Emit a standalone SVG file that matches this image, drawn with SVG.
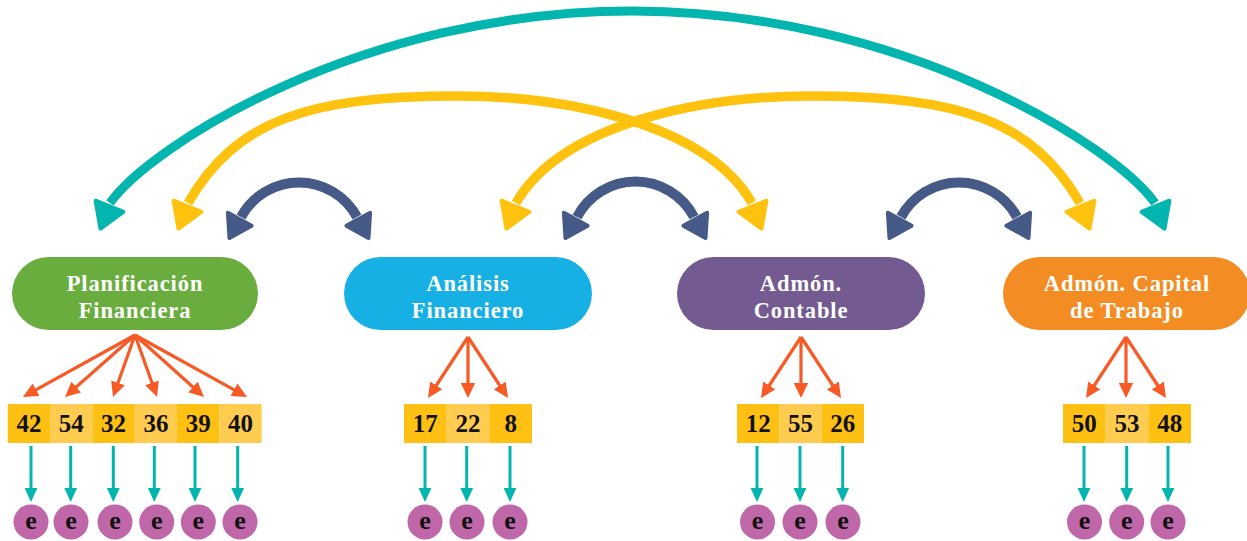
<svg xmlns="http://www.w3.org/2000/svg" xmlns:xlink="http://www.w3.org/1999/xlink" width="1247" height="541" viewBox="0 0 1247 541">
<style>
.pt{font-family:"Liberation Serif",serif;font-weight:bold;font-size:22.5px;fill:#fff;letter-spacing:0.9px;text-anchor:middle}
.num{font-family:"Liberation Serif",serif;font-weight:bold;font-size:25px;fill:#111;text-anchor:middle}
.dk{fill:#FEC013}
.lt{fill:#FFCC50}
.ec{fill:#C067AA}
.et{font-family:"Liberation Serif",serif;font-weight:bold;font-size:26px;fill:#111;text-anchor:middle}
.arc{fill:none}
.teal{stroke:#02B5AE;stroke-width:9}
.yel{stroke:#FFC20F;stroke-width:9.5}
.navy{stroke:#465A87;stroke-width:10}
.ht{fill:#02B5AE;stroke:#02B5AE;stroke-width:4;stroke-linejoin:round}
.hy{fill:#FFC20F;stroke:#FFC20F;stroke-width:4;stroke-linejoin:round}
.hn{fill:#465A87;stroke:#465A87;stroke-width:4;stroke-linejoin:round}
.oa{fill:none;stroke:#F85A26;stroke-width:3.2;marker-end:url(#mo)}
.ta{fill:none;stroke:#02B5AE;stroke-width:3;marker-end:url(#mt)}
</style>
<defs>
<path id="hd" d="M0,0 L-24,-15 L-24,15 Z"/>
<path id="hdn" d="M0,0 L-21.5,-13.5 L-21.5,13.5 Z"/>
<marker id="mo" viewBox="0 0 15 15" refX="9" refY="7.5" markerWidth="15" markerHeight="15" markerUnits="userSpaceOnUse" orient="auto"><path d="M0,0.3 L15,7.5 L0,14.7 Z" fill="#F85A26"/></marker>
<marker id="mt" viewBox="0 0 14 14" refX="8" refY="7" markerWidth="14" markerHeight="14" markerUnits="userSpaceOnUse" orient="auto"><path d="M0,0.6 L14,7 L0,13.4 Z" fill="#02B5AE"/></marker>
</defs>
<rect width="1247" height="541" fill="#fff"/>

<g id="connectors">
<path class="arc teal" d="M110,203 C150,146 362,11 632,11 C902,11 1115,146 1155,203"/>
<path class="arc yel" d="M188,203 C235.5,120.7 308,96 458,96 C558,96 704.5,120.7 752,203"/>
<path class="arc yel" d="M1080,203 C1032.5,120.7 960,96 810,96 C710,96 563.5,120.7 516,203"/>
<path class="arc navy" d="M241,217 A66,66 0 0 1 357,217"/>
<path class="arc navy" d="M577,217 A66,66 0 0 1 694,217"/>
<path class="arc navy" d="M901,217 A66,66 0 0 1 1017,217"/>
<use xlink:href="#hd" class="ht" transform="translate(100.5,228.6) rotate(112)"/>
<use xlink:href="#hd" class="ht" transform="translate(1164.5,228.6) rotate(68)"/>
<use xlink:href="#hd" class="hy" transform="translate(178.5,228.6) rotate(112)"/>
<use xlink:href="#hd" class="hy" transform="translate(761.5,228.6) rotate(68)"/>
<use xlink:href="#hd" class="hy" transform="translate(506.5,228.6) rotate(112)"/>
<use xlink:href="#hd" class="hy" transform="translate(1089.5,228.6) rotate(68)"/>
<use xlink:href="#hdn" class="hn" transform="translate(229.5,238.1) rotate(118.5)"/>
<use xlink:href="#hdn" class="hn" transform="translate(368.5,238.1) rotate(61.5)"/>
<use xlink:href="#hdn" class="hn" transform="translate(565.5,238.1) rotate(118.5)"/>
<use xlink:href="#hdn" class="hn" transform="translate(705.5,238.1) rotate(61.5)"/>
<use xlink:href="#hdn" class="hn" transform="translate(889.5,238.1) rotate(118.5)"/>
<use xlink:href="#hdn" class="hn" transform="translate(1028.5,238.1) rotate(61.5)"/>

<path class="oa" d="M135,335 L28.2,394.1"/>
<path class="oa" d="M135,335 L69.5,393"/>
<path class="oa" d="M135,335 L115,391.3"/>
<path class="oa" d="M135,335 L155,391.3"/>
<path class="oa" d="M135,335 L199.6,393"/>
<path class="oa" d="M135,335 L241.8,394.1"/>
<path class="oa" d="M468,337 L431.3,393"/>
<path class="oa" d="M468,337 L468,392"/>
<path class="oa" d="M468,337 L504.7,393"/>
<path class="oa" d="M801,337 L764.3,393"/>
<path class="oa" d="M801,337 L801,392"/>
<path class="oa" d="M801,337 L837.7,393"/>
<path class="oa" d="M1126,337 L1089.3,393"/>
<path class="oa" d="M1126,337 L1126,392"/>
<path class="oa" d="M1126,337 L1162.7,393"/>

<path class="ta" d="M31,446 V496"/>
<path class="ta" d="M70.7,446 V496"/>
<path class="ta" d="M113.3,446 V496"/>
<path class="ta" d="M154.3,446 V496"/>
<path class="ta" d="M195,446 V496"/>
<path class="ta" d="M237.7,446 V496"/>
<path class="ta" d="M425,446 V496"/>
<path class="ta" d="M466.7,446 V496"/>
<path class="ta" d="M510,446 V496"/>
<path class="ta" d="M757,446 V496"/>
<path class="ta" d="M800,446 V496"/>
<path class="ta" d="M842.7,446 V496"/>
<path class="ta" d="M1084,446 V496"/>
<path class="ta" d="M1126.7,446 V496"/>
<path class="ta" d="M1168,446 V496"/>
</g>

<g id="planificacion">
<rect x="12" y="257" width="246" height="73" rx="36.5" fill="#6AAD3F"/>
<text class="pt" x="135" y="291">Planificación</text>
<text class="pt" x="135" y="318">Financiera</text>
</g>
<g id="analisis">
<rect x="344" y="257" width="248" height="73" rx="36.5" fill="#17B0E5"/>
<text class="pt" x="468" y="291">Análisis</text>
<text class="pt" x="468" y="318">Financiero</text>
</g>
<g id="contable">
<rect x="677" y="257" width="248" height="73" rx="36.5" fill="#735A90"/>
<text class="pt" x="801" y="291">Admón.</text>
<text class="pt" x="801" y="318">Contable</text>
</g>
<g id="capital">
<rect x="1003" y="257" width="247" height="73" rx="36.5" fill="#F38D23"/>
<text class="pt" x="1127" y="291">Admón. Capital</text>
<text class="pt" x="1127" y="318">de Trabajo</text>
</g>

<g id="cell-42"><rect class="dk" x="7.7" y="404" width="42.4" height="39"/><text class="num" x="28.9" y="431.5">42</text></g>
<g id="cell-54"><rect class="lt" x="50" y="404" width="42.4" height="39"/><text class="num" x="71.2" y="431.5">54</text></g>
<g id="cell-32"><rect class="dk" x="92.4" y="404" width="42.4" height="39"/><text class="num" x="113.6" y="431.5">32</text></g>
<g id="cell-36"><rect class="lt" x="134.7" y="404" width="42.4" height="39"/><text class="num" x="155.9" y="431.5">36</text></g>
<g id="cell-39"><rect class="dk" x="177" y="404" width="42.4" height="39"/><text class="num" x="198.2" y="431.5">39</text></g>
<g id="cell-40"><rect class="lt" x="219.4" y="404" width="42.3" height="39"/><text class="num" x="240.6" y="431.5">40</text></g>

<g id="cell-17"><rect class="dk" x="404" y="404" width="42.7" height="39"/><text class="num" x="425.3" y="431.5">17</text></g>
<g id="cell-22"><rect class="lt" x="446.7" y="404" width="42.7" height="39"/><text class="num" x="468" y="431.5">22</text></g>
<g id="cell-8"><rect class="dk" x="489.3" y="404" width="42.7" height="39"/><text class="num" x="510.7" y="431.5">8</text></g>

<g id="cell-12"><rect class="dk" x="737" y="404" width="42.4" height="39"/><text class="num" x="758.2" y="431.5">12</text></g>
<g id="cell-55"><rect class="lt" x="779.3" y="404" width="42.4" height="39"/><text class="num" x="800.5" y="431.5">55</text></g>
<g id="cell-26"><rect class="dk" x="821.7" y="404" width="42.3" height="39"/><text class="num" x="842.8" y="431.5">26</text></g>

<g id="cell-50"><rect class="dk" x="1063" y="404" width="42.7" height="39"/><text class="num" x="1084.3" y="431.5">50</text></g>
<g id="cell-53"><rect class="lt" x="1105.7" y="404" width="42.7" height="39"/><text class="num" x="1127" y="431.5">53</text></g>
<g id="cell-48"><rect class="dk" x="1148.3" y="404" width="42.7" height="39"/><text class="num" x="1169.7" y="431.5">48</text></g>

<g id="e1"><circle class="ec" cx="31" cy="522" r="17.5"/><text class="et" x="31" y="529">e</text></g>
<g id="e2"><circle class="ec" cx="71" cy="522" r="17.5"/><text class="et" x="71" y="529">e</text></g>
<g id="e3"><circle class="ec" cx="115" cy="522" r="17.5"/><text class="et" x="115" y="529">e</text></g>
<g id="e4"><circle class="ec" cx="156.7" cy="522" r="17.5"/><text class="et" x="156.7" y="529">e</text></g>
<g id="e5"><circle class="ec" cx="198.3" cy="522" r="17.5"/><text class="et" x="198.3" y="529">e</text></g>
<g id="e6"><circle class="ec" cx="240" cy="522" r="17.5"/><text class="et" x="240" y="529">e</text></g>
<g id="e7"><circle class="ec" cx="425" cy="522" r="17.5"/><text class="et" x="425" y="529">e</text></g>
<g id="e8"><circle class="ec" cx="467" cy="522" r="17.5"/><text class="et" x="467" y="529">e</text></g>
<g id="e9"><circle class="ec" cx="510" cy="522" r="17.5"/><text class="et" x="510" y="529">e</text></g>
<g id="e10"><circle class="ec" cx="757.5" cy="522" r="17.5"/><text class="et" x="757.5" y="529">e</text></g>
<g id="e11"><circle class="ec" cx="800" cy="522" r="17.5"/><text class="et" x="800" y="529">e</text></g>
<g id="e12"><circle class="ec" cx="843" cy="522" r="17.5"/><text class="et" x="843" y="529">e</text></g>
<g id="e13"><circle class="ec" cx="1084.5" cy="522" r="17.5"/><text class="et" x="1084.5" y="529">e</text></g>
<g id="e14"><circle class="ec" cx="1126.7" cy="522" r="17.5"/><text class="et" x="1126.7" y="529">e</text></g>
<g id="e15"><circle class="ec" cx="1168" cy="522" r="17.5"/><text class="et" x="1168" y="529">e</text></g>
</svg>
